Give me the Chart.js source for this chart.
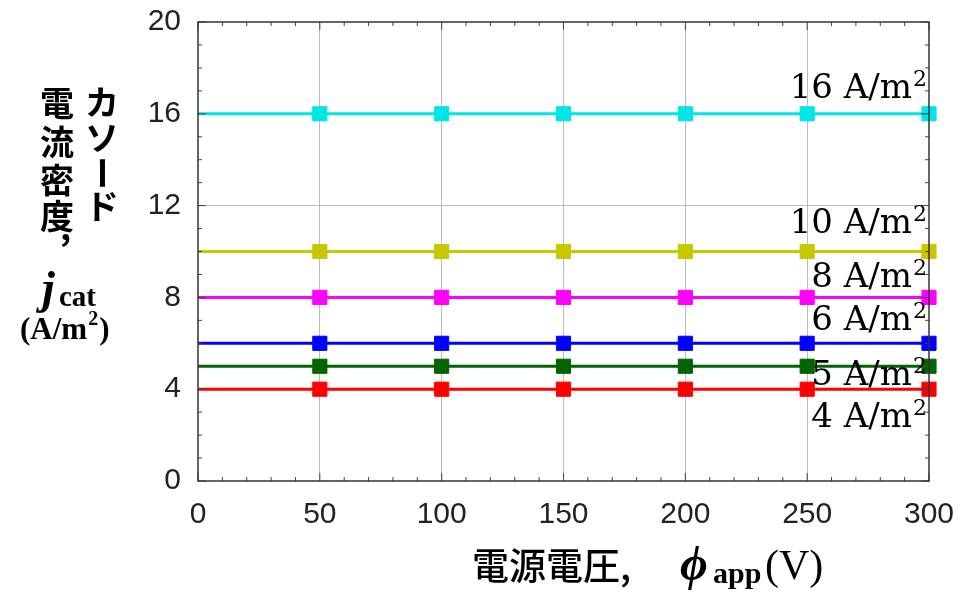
<!DOCTYPE html>
<html>
<head>
<meta charset="utf-8">
<script src="https://cdn.jsdelivr.net/npm/chart.js@4.4.1/dist/chart.umd.min.js"></script>
<style>
  html, body { margin: 0; padding: 0; background: #fff; }
</style>
</head>
<body>
<canvas id="jcatChart" width="961" height="594"></canvas>
<script>
// data
const voltage = [0, 50, 100, 150, 200, 250, 300];
const j16 = [16, 16, 16, 16, 16, 16, 16];
const j10 = [10, 10, 10, 10, 10, 10, 10];
const j8 = [8, 8, 8, 8, 8, 8, 8];
const j6 = [6, 6, 6, 6, 6, 6, 6];
const j5 = [5, 5, 5, 5, 5, 5, 5];
const j4 = [4, 4, 4, 4, 4, 4, 4];
const seriesNames = ["16 A/m", "10 A/m", "8 A/m", "6 A/m", "5 A/m", "4 A/m"];
const xTicks = [0, 50, 100, 150, 200, 250, 300];
const yTicks = [0, 4, 8, 12, 16, 20];

// look
const colors = ["#00e5e5", "#c8c800", "#ff00ff", "#0000ff", "#006400", "#ff0000"];
const labelShift = [-16, -19, -10, -13, 19, 38];
const serif = "'DejaVu Serif', serif";
const serifB = "'Liberation Serif', serif";
const cjk = "'Noto Sans CJK JP', sans-serif";

const allSeries = [j16, j10, j8, j6, j5, j4];

const datasets = allSeries.map((vals, i) => ({
  label: seriesNames[i],
  data: voltage.map((v, k) => ({ x: v, y: vals[k] })),
  borderColor: colors[i],
  backgroundColor: colors[i],
  borderWidth: 3,
  pointStyle: "rect",
  pointRadius: voltage.map(v => (v === 0 ? 0 : 10)),
  pointHoverRadius: voltage.map(v => (v === 0 ? 0 : 10)),
  pointBorderWidth: 1,
  clip: false,
}));

function line(ctx, x1, y1, x2, y2) {
  ctx.beginPath();
  ctx.moveTo(x1, y1);
  ctx.lineTo(x2, y2);
  ctx.stroke();
}

// text with a superscript 2, right edge at rx
function supText(ctx, txt, rx, by, font, supFont, raise) {
  ctx.font = supFont;
  const w2 = ctx.measureText("2").width;
  ctx.font = font;
  const w1 = ctx.measureText(txt).width;
  const x0 = rx - w2 - w1;
  ctx.textAlign = "left";
  ctx.textBaseline = "alphabetic";
  ctx.fillText(txt, x0, by);
  ctx.font = supFont;
  ctx.fillText("2", x0 + w1 + 1, by - raise);
}

const deco = {
  id: "deco",
  afterDatasetsDraw(chart) {
    const { ctx, chartArea: a, scales: { x, y } } = chart;
    ctx.save();
    ctx.strokeStyle = "#444";
    ctx.lineWidth = 1;
    // minor + major ticks, inward on all four sides
    for (let v = 0; v <= 300; v += 10) {
      const px = x.getPixelForValue(v);
      const len = v % 50 === 0 ? 8 : 4;
      line(ctx, px, a.bottom, px, a.bottom - len);
      line(ctx, px, a.top, px, a.top + len);
    }
    for (let v = 0; v <= 20; v += 1) {
      const py = y.getPixelForValue(v);
      const len = v % 4 === 0 ? 8 : 4;
      line(ctx, a.left, py, a.left + len, py);
      line(ctx, a.right, py, a.right - len, py);
    }
    // frame
    ctx.strokeStyle = "#333";
    ctx.lineWidth = 1.5;
    ctx.strokeRect(a.left, a.top, a.right - a.left, a.bottom - a.top);

    // series labels
    ctx.fillStyle = "#000";
    allSeries.forEach((vals, i) => {
      const by = y.getPixelForValue(vals[vals.length - 1]) + labelShift[i];
      supText(ctx, seriesNames[i], a.right - 3, by, "34px " + serif, "22px " + serif, 12);
    });

    // y title: two vertical columns
    ctx.font = "bold 34px " + cjk;
    ctx.textAlign = "center";
    ctx.textBaseline = "middle";
    const col1 = ["カ", "ソ", "ー", "ド"];
    const col1y = [102, 138, 173, 206];
    col1.forEach((ch, k) => {
      if (ch === "ー") {
        ctx.save();
        ctx.translate(102, col1y[k]);
        ctx.rotate(Math.PI / 2);
        ctx.fillText(ch, 0, 0);
        ctx.restore();
      } else {
        ctx.fillText(ch, 102, col1y[k]);
      }
    });
    const col2 = ["電", "流", "密", "度"];
    const col2y = [103, 142, 180, 216];
    col2.forEach((ch, k) => ctx.fillText(ch, 57, col2y[k]));
    ctx.textAlign = "left";
    ctx.textBaseline = "alphabetic";
    ctx.fillText(",", 60, 240);

    ctx.font = "italic bold 46px " + serifB;
    ctx.fillText("j", 42, 303);
    ctx.font = "bold 29px " + serifB;
    ctx.fillText("cat", 59, 306);
    ctx.font = "bold 31px " + serifB;
    ctx.fillText("(A/m", 20, 339);
    const w = ctx.measureText("(A/m").width;
    ctx.font = "bold 20px " + serifB;
    ctx.fillText("2", 20 + w + 1, 325);
    const w2 = ctx.measureText("2").width;
    ctx.font = "bold 31px " + serifB;
    ctx.fillText(")", 20 + w + w2 + 2, 339);

    // x title
    ctx.font = "500 37px " + cjk;
    ctx.textBaseline = "middle";
    ctx.fillText("電源電圧,", 472, 566);
    ctx.textBaseline = "alphabetic";
    ctx.font = "italic bold 48px " + serifB;
    ctx.fillText("ϕ", 680, 580);
    ctx.font = "bold 30px " + serifB;
    ctx.fillText("app", 713, 583);
    ctx.font = "42px " + serifB;
    ctx.fillText("(V)", 765, 579);
    ctx.restore();
  },
};

new Chart(document.getElementById("jcatChart").getContext("2d"), {
  type: "line",
  data: { datasets },
  options: {
    responsive: false,
    animation: false,
    events: [],
    layout: { padding: { top: 22, right: 32, left: 0, bottom: 0 } },
    plugins: { legend: { display: false }, tooltip: { enabled: false } },
    scales: {
      x: {
        type: "linear",
        min: 0,
        max: 300,
        afterBuildTicks: s => { s.ticks = xTicks.map(v => ({ value: v })); },
        afterFit: s => { s.height = 113; s.paddingLeft = 0; s.paddingRight = 0; },
        grid: {
          drawTicks: false,
          lineWidth: 1,
          color: c => (c.tick.value === 0 || c.tick.value === 300 ? "rgba(0,0,0,0)" : "#bbbbbb"),
        },
        border: { display: false },
        ticks: { padding: 16, color: "#222", font: { family: "'Liberation Sans', sans-serif", size: 30 } },
      },
      y: {
        min: 0,
        max: 20,
        afterBuildTicks: s => { s.ticks = yTicks.map(v => ({ value: v })); },
        afterFit: s => { s.width = 198; s.paddingTop = 0; s.paddingBottom = 0; },
        grid: {
          drawTicks: false,
          lineWidth: 1,
          color: c => (c.tick.value === 0 || c.tick.value === 20 ? "rgba(0,0,0,0)" : "#bbbbbb"),
        },
        border: { display: false },
        ticks: { padding: 17, color: "#222", font: { family: "'Liberation Sans', sans-serif", size: 30 } },
      },
    },
  },
  plugins: [deco],
});
</script>
</body>
</html>
